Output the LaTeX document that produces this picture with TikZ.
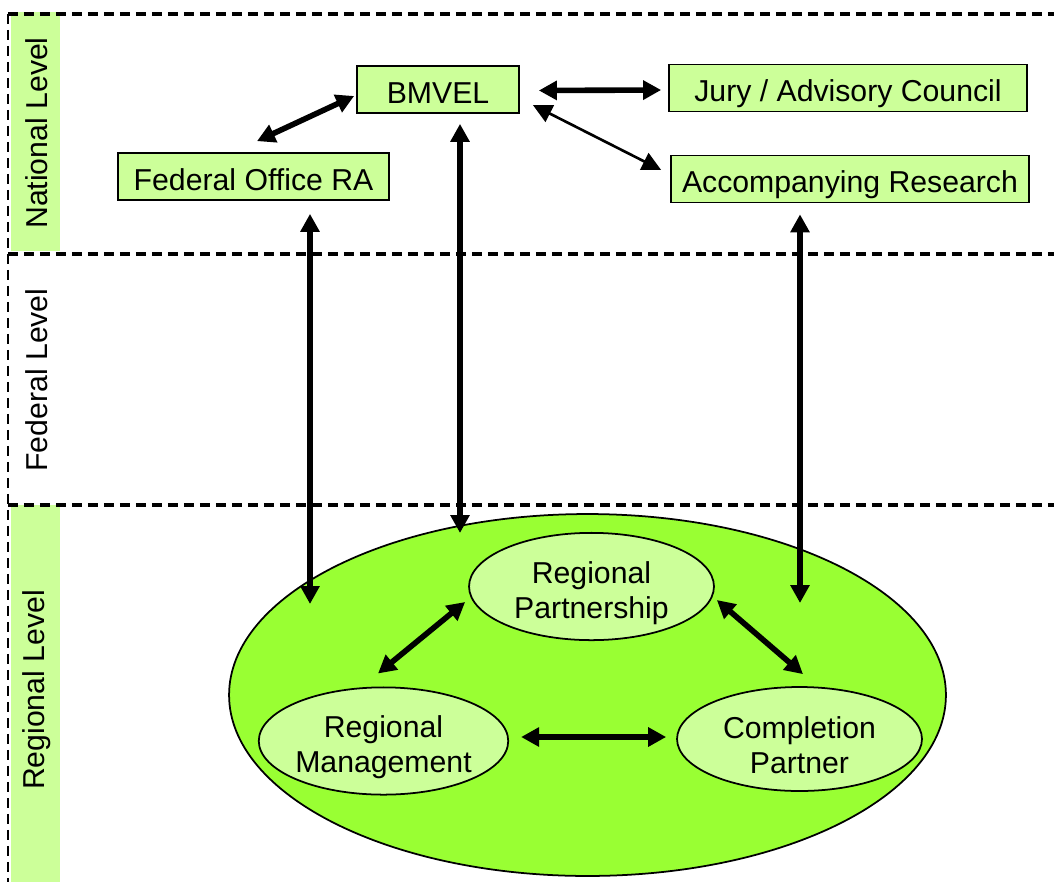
\documentclass[tikz,border=0pt]{standalone}
\usepackage{fontspec}
\setmainfont{Liberation Sans}
\usetikzlibrary{shapes.geometric,arrows.meta,calc}
\definecolor{palegreen}{HTML}{CCFF99}
\definecolor{limegreen}{HTML}{99FF33}

\begin{document}
\begin{tikzpicture}[x=0.02cm,y=-0.02cm,
  every node/.style={font=\fontsize{17.2}{20}\selectfont},
  box/.style={draw,fill=palegreen,line width=1pt,inner sep=0pt,minimum height=0.94cm,
    text height=15.4pt,text depth=0pt},
  blob/.style={ellipse,draw,fill=palegreen,line width=1pt,inner sep=0pt,
    minimum width=4.9cm,minimum height=2.08cm,align=center},
  levelsep/.style={line width=2.3pt,dash pattern=on 0.2cm off 0.12cm},
  dbl/.style={{Triangle[length=0.36cm,width=0.37cm]}-{Triangle[length=0.36cm,width=0.37cm]},line width=3.2pt},
  dblthin/.style={{Triangle[length=0.38cm,width=0.37cm]}-{Triangle[length=0.38cm,width=0.37cm]},line width=1.5pt}]

  \useasboundingbox (0,0) rectangle (1054,882);

  % ========== Levels ==========
  \fill[palegreen] (11,12) rectangle (60,251);
  \fill[palegreen] (11,505) rectangle (60,882);
  \node[rotate=90] (national) at (37,133) {National Level};
  \node[rotate=90] (federal) at (37,380) {Federal Level};
  \node[rotate=90] (regional) at (37,690) {Regional Level};
  \draw[levelsep] (8,14) -- (1054,14);
  \draw[levelsep] (8,254) -- (1054,254);
  \draw[levelsep] (8,505) -- (1054,505);
  \draw[line width=1.7pt,dash pattern=on 0.2cm off 0.12cm] (8,14) -- (8,882);

  % ========== National level ==========
  \node[box,minimum width=3.24cm] (bm) at (438,89.5) {BMVEL};
  \node[box,minimum width=7.16cm] (jury) at (848,88) {Jury / Advisory Council};
  \node[box,minimum width=5.42cm] (fo) at (253.5,176.5) {Federal Office RA};
  \node[box,minimum width=7.16cm] (ar) at (850,179) {Accompanying Research};

  \draw[dbl] ($(fo.north)+(3.5,-11)$) -- ($(bm.west)+(-2,6.5)$);
  \draw[dbl] ($(bm.east)+(19,1)$) -- ($(jury.west)+(-7,2)$);
  \draw[dblthin] ($(bm.east)+(13,15.5)$) -- ($(ar.west)+(-9,-9)$);

  % ========== Regional level ==========
  \node[ellipse,draw,fill=limegreen,line width=1pt,inner sep=0pt,
    minimum width=14.34cm,minimum height=7.24cm] (region) at (587.5,695) {};
  \node[blob] (rp) at (591.5,586.5) {\rule{0pt}{19.6pt}Regional\\Partnership};
  \node[blob] (rm) at (383.5,741) {\rule{0pt}{19.6pt}Regional\\Management};
  \node[blob] (cp) at (799.5,739) {\rule{0pt}{19.6pt}Completion\\Partner};

  \draw[dbl] ($(rp.west)+(-3,15.5)$) -- ($(rm.north)+(-5.5,-13)$);
  \draw[dbl] ($(rp.east)+(2,13.5)$) -- ($(cp.north)+(3.5,-12)$);
  \draw[dbl] ($(rm.east)+(12,-4)$) -- ($(cp.west)+(-10,-2)$);

  % links down to the region
  \coordinate (fo-in) at (310,604);
  \coordinate (bm-in) at (460,533);
  \coordinate (ar-in) at (800,603);
  \draw[dbl] ($(fo.south -| fo-in)+(0,13)$) -- (fo-in);
  \draw[dbl] ($(bm.south -| bm-in)+(0,10)$) -- (bm-in);
  \draw[dbl] ($(ar.south -| ar-in)+(0,11)$) -- (ar-in);

\end{tikzpicture}
\end{document}
